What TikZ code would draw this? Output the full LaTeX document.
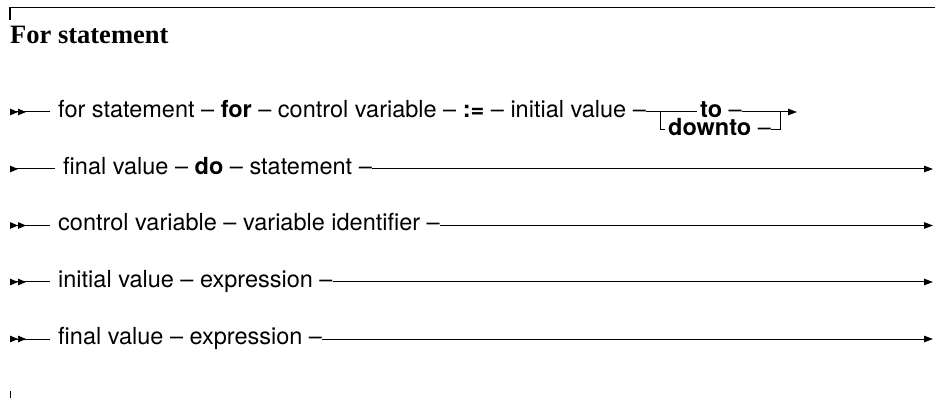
\documentclass[tikz,border=0pt]{standalone}
\usepackage{fontspec}
\setmainfont{TeX Gyre Heros}
\newfontfamily\titlefont{Liberation Serif}
\usetikzlibrary{arrows.meta,calc}
\begin{document}
\begin{tikzpicture}[x=1pt,y=-1pt,
  lbl/.style={anchor=base west,inner sep=0pt,font=\fontsize{23.5}{28}\selectfont},
  conn/.style={line width=1pt},
  dstart/.style={conn,{Triangle[length=8pt,width=6.5pt,reversed]Triangle[length=8pt,width=6.5pt,reversed]}-},
  sstart/.style={conn,{Triangle[length=8pt,width=6.5pt,reversed]}-},
  fin/.style={conn,-{Triangle[length=9pt,width=6.5pt]}},
]
\useasboundingbox (0,0) rectangle (935,398);
\draw[line width=1.5pt] (10,20) -- (10,7.5) -- (935,7.5);
\draw[line width=1pt] (10,391) -- (10,398);
\node[anchor=base west,inner sep=0pt,font=\titlefont\bfseries\fontsize{26.5}{30}\selectfont] (title) at (10,44) {For statement};

% row 1
\coordinate (a1) at (10,112);
\coordinate (b1) at (50,112);
\node[lbl] (t1) at (58,117.5) {for statement -- \textbf{for} -- control variable -- \textbf{:=} -- initial value --};
\node[lbl] (to) at (700,117.5) {\textbf{to} --};
\node[lbl] (downto) at (668,135.5) {\textbf{downto} --};
\coordinate (j1) at (660,112);
\coordinate (d1) at (660,130);
\coordinate (j2) at (780,112);
\coordinate (c1) at (797,112);
\draw[dstart] (a1) -- (b1);
\draw[conn] (t1.east |- a1) -- ($(to.west |- a1)+(-3,0)$);
\draw[conn] (to.east |- a1) -- (j2);
\draw[fin] (j2) -- (c1);
\draw[conn] (j1) -- (d1) -- ($(downto.west |- d1)+(-3,0)$);
\draw[conn] (downto.east |- d1) -| (j2);

% row 2
\coordinate (a2) at (10,169);
\coordinate (b2) at (55,169);
\coordinate (c2) at (933,169);
\node[lbl] (t2) at (63,174.5) {final value -- \textbf{do} -- statement --};
\draw[sstart] (a2) -- (b2);
\draw[fin] (t2.east |- a2) -- (c2);

% row 3
\coordinate (a3) at (10,225.5);
\coordinate (b3) at (50,225.5);
\coordinate (c3) at (933,225.5);
\node[lbl] (t3) at (58,231) {control variable -- variable identifier --};
\draw[dstart] (a3) -- (b3);
\draw[fin] (t3.east |- a3) -- (c3);

% row 4
\coordinate (a4) at (10,282);
\coordinate (b4) at (50,282);
\coordinate (c4) at (933,282);
\node[lbl] (t4) at (58,287.5) {initial value -- expression --};
\draw[dstart] (a4) -- (b4);
\draw[fin] (t4.east |- a4) -- (c4);

% row 5
\coordinate (a5) at (10,339);
\coordinate (b5) at (50,339);
\coordinate (c5) at (933,339);
\node[lbl] (t5) at (58,344.5) {final value -- expression --};
\draw[dstart] (a5) -- (b5);
\draw[fin] (t5.east |- a5) -- (c5);
\end{tikzpicture}
\end{document}
